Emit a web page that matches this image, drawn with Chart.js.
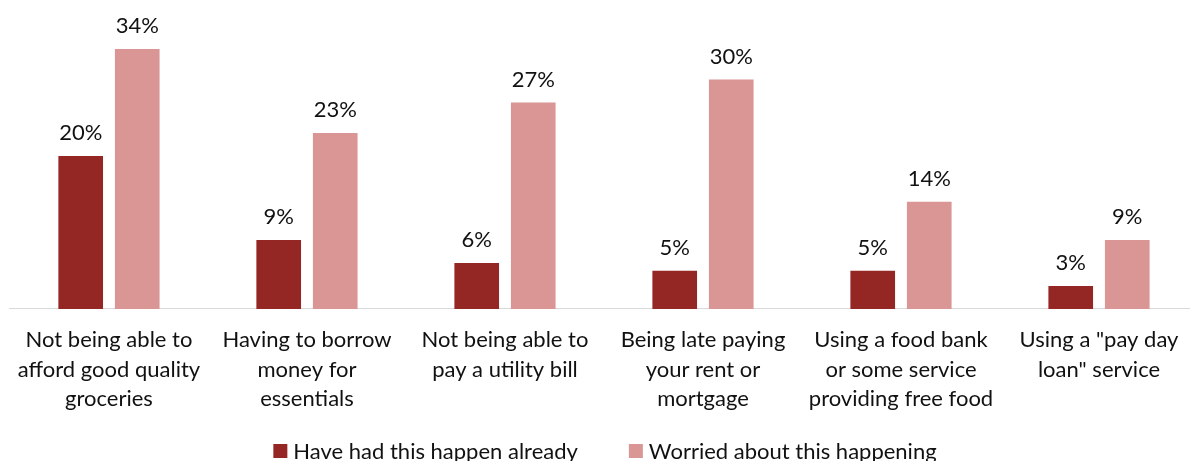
<!DOCTYPE html>
<html>
<head>
<meta charset="utf-8">
<script src="https://cdn.jsdelivr.net/npm/chart.js@4/dist/chart.umd.min.js"></script>
<style>
    html, body { margin: 0; padding: 0; background: #fff; overflow: hidden; }
    #wrap { width: 1200px; height: 461px; position: relative; }
</style>
</head>
<body>
<div id="wrap"><canvas id="worryChart"></canvas></div>
<script>
var categories = [
    ['Not being able to', 'afford good quality', 'groceries'],
    ['Having to borrow', 'money for', 'essentials'],
    ['Not being able to', 'pay a utility bill'],
    ['Being late paying', 'your rent or', 'mortgage'],
    ['Using a food bank', 'or some service', 'providing free food'],
    ['Using a "pay day', 'loan" service']
];
var happenedAlready = [20, 9, 6, 5, 5, 3];
var worriedAbout = [34, 23, 27, 30, 14, 9];
var seriesNames = ['Have had this happen already', 'Worried about this happening'];

var fontFamily = 'Lato, "Open Sans", sans-serif';
var textColor = '#111111';

/**
 *  Writes the percentage above each bar.
 */
var barValueLabels = {
    id: 'barValueLabels',
    afterDatasetsDraw: function(chart) {
        var ctx = chart.ctx;
        ctx.save();
        ctx.font = '22px ' + fontFamily;
        ctx.fillStyle = textColor;
        ctx.textAlign = 'center';
        ctx.textBaseline = 'middle';
        chart.data.datasets.forEach(function(ds, i) {
            chart.getDatasetMeta(i).data.forEach(function(bar, j) {
                ctx.fillText(ds.data[j] + '%', bar.x, bar.y - 23);
            });
        });
        ctx.restore();
    }
};

/**
 *  Legend row under the category labels, centred on the plot.
 */
var bottomLegend = {
    id: 'bottomLegend',
    afterDraw: function(chart) {
        var ctx = chart.ctx;
        var box = 14, textGap = 6, itemGap = 51;
        var y = 451;
        ctx.save();
        ctx.font = '22px ' + fontFamily;
        ctx.textBaseline = 'middle';
        ctx.textAlign = 'left';
        var total = 0;
        chart.data.datasets.forEach(function(ds, i) {
            total += box + textGap + ctx.measureText(ds.label).width;
            if (i > 0) total += itemGap;
        });
        var area = chart.chartArea;
        var x = (area.left + area.right) / 2 - total / 2 + 1;
        chart.data.datasets.forEach(function(ds) {
            ctx.fillStyle = ds.backgroundColor;
            ctx.fillRect(x, y - box / 2, box, box);
            ctx.fillStyle = textColor;
            ctx.fillText(ds.label, x + box + textGap, y + 1);
            x += box + textGap + ctx.measureText(ds.label).width + itemGap;
        });
        ctx.restore();
    }
};

var worryChart = new Chart(document.getElementById('worryChart').getContext('2d'), {
    type: 'bar',
    data: {
        labels: categories,
        datasets: [{
            label: seriesNames[0],
            data: happenedAlready,
            backgroundColor: '#942724',
            barPercentage: 0.79,
            categoryPercentage: 0.571
        }, {
            label: seriesNames[1],
            data: worriedAbout,
            backgroundColor: '#DA9694',
            barPercentage: 0.79,
            categoryPercentage: 0.571
        }]
    },
    options: {
        responsive: true,
        maintainAspectRatio: false,
        animation: false,
        layout: {
            padding: { left: 9, right: 2, top: 3, bottom: 31 }
        },
        plugins: {
            legend: { display: false },
            tooltip: { enabled: false }
        },
        scales: {
            x: {
                grid: { display: false, drawTicks: false },
                border: { display: true, color: '#d9d9d9', width: 1 },
                ticks: {
                    color: textColor,
                    font: { family: fontFamily, size: 22, lineHeight: 1.32 },
                    padding: 17,
                    maxRotation: 0,
                    autoSkip: false
                }
            },
            y: {
                display: false,
                min: 0,
                max: 40
            }
        }
    },
    plugins: [barValueLabels, bottomLegend]
});
</script>
</body>
</html>
